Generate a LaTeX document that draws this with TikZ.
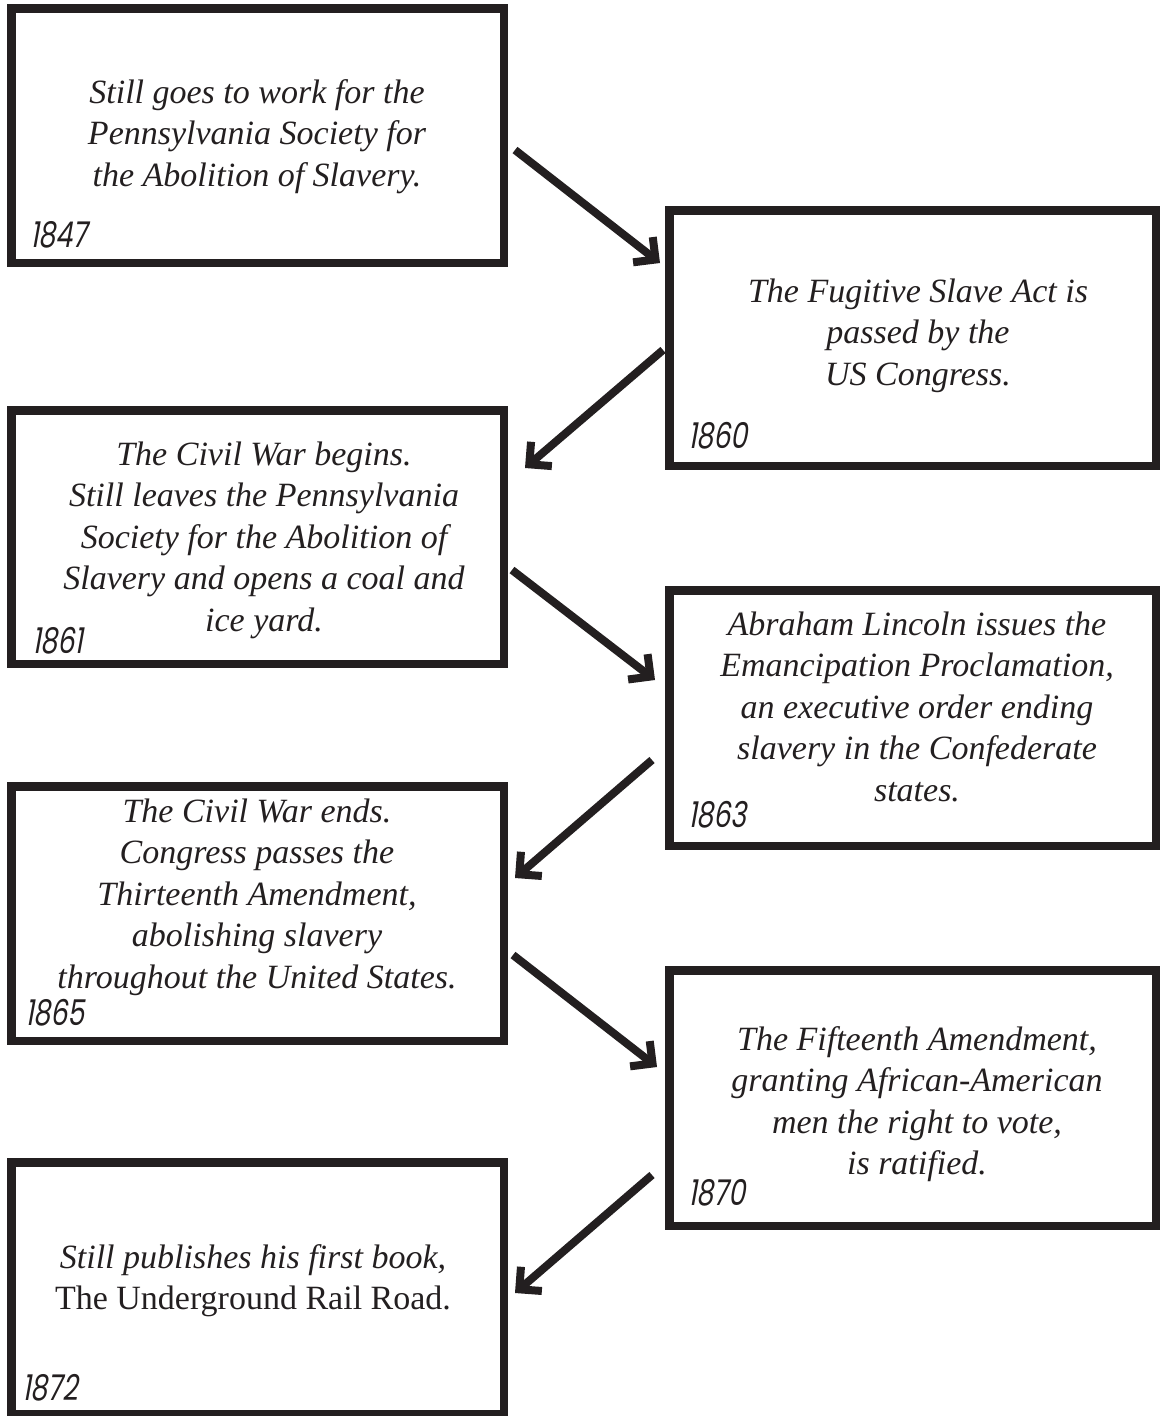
\documentclass[tikz,border=0pt]{standalone}
\usepackage{fontspec}
\setmainfont{Liberation Serif}
\newfontfamily\yearfont[FakeSlant=0.18,FakeStretch=0.76]{Poppins}
\usetikzlibrary{arrows.meta}
\definecolor{ink}{HTML}{231F20}
\begin{document}
\begin{tikzpicture}[x=1pt,y=-1pt,
  tbox/.style={draw=ink, line width=8.5pt, rectangle, inner sep=0pt, outer sep=0pt},
  desc/.style={anchor=base, inner sep=0pt, text=ink, font=\fontsize{34}{41.5}\selectfont\itshape},
  yr/.style={anchor=base west, inner sep=0pt, text=ink, font=\fontsize{35.5}{40}\selectfont\yearfont},
  conn/.style={draw=ink, line width=8pt, line cap=butt, -{Straight Barb[length=16pt,width=32pt,line join=miter]}}]
\useasboundingbox (0,0) rectangle (1161,1416);
% boxes
\node[tbox, minimum width=492.5pt, minimum height=254.5pt] (b1) at (257.5,135.5) {};
\node[tbox, minimum width=486.5pt, minimum height=255.5pt] (b2) at (912.5,338) {};
\node[tbox, minimum width=492.5pt, minimum height=253.5pt] (b3) at (257.5,537) {};
\node[tbox, minimum width=486.5pt, minimum height=255.5pt] (b4) at (912.5,718) {};
\node[tbox, minimum width=492.5pt, minimum height=254.5pt] (b5) at (257.5,913.5) {};
\node[tbox, minimum width=486.5pt, minimum height=255.5pt] (b6) at (912.5,1098) {};
\node[tbox, minimum width=492.5pt, minimum height=251.5pt] (b7) at (257.5,1288) {};
% texts
\node[desc] (t1) at (257,103) {\begin{tabular}[t]{@{}c@{}}Still goes to work for the\\ Pennsylvania Society for\\ the Abolition of Slavery.\end{tabular}};
\node[desc] (t2) at (918,302) {\begin{tabular}[t]{@{}c@{}}The Fugitive Slave Act is\\ passed by the\\ US Congress.\end{tabular}};
\node[desc] (t3) at (264,465) {\begin{tabular}[t]{@{}c@{}}The Civil War begins.\\ Still leaves the Pennsylvania\\ Society for the Abolition of\\ Slavery and opens a coal and\\ ice yard.\end{tabular}};
\node[desc] (t4) at (917,635) {\begin{tabular}[t]{@{}c@{}}Abraham Lincoln issues the\\ Emancipation Proclamation,\\ an executive order ending\\ slavery in the Confederate\\ states.\end{tabular}};
\node[desc] (t5) at (257,822) {\begin{tabular}[t]{@{}c@{}}The Civil War ends.\\ Congress passes the\\ Thirteenth Amendment,\\ abolishing slavery\\ throughout the United States.\end{tabular}};
\node[desc] (t6) at (917,1050) {\begin{tabular}[t]{@{}c@{}}The Fifteenth Amendment,\\ granting African-American\\ men the right to vote,\\ is ratified.\end{tabular}};
\node[desc] (t7) at (253,1268) {\begin{tabular}[t]{@{}c@{}}Still publishes his first book,\\ \upshape The Underground Rail Road.\end{tabular}};
% years
\node[yr] (y1) at (30,247) {1847};
\node[yr] (y2) at (688,448) {1860};
\node[yr] (y3) at (32,653) {1861};
\node[yr] (y4) at (688,827) {1863};
\node[yr] (y5) at (25,1025) {1865};
\node[yr] (y6) at (688,1205) {1870};
\node[yr] (y7) at (22,1400) {1872};
% connectors
\coordinate (a1s) at (515,150); \coordinate (a1e) at (660,263);
\coordinate (a2s) at (663,350); \coordinate (a2e) at (525,468);
\coordinate (a3s) at (512,570); \coordinate (a3e) at (655,680);
\coordinate (a4s) at (652,760); \coordinate (a4e) at (515,878);
\coordinate (a5s) at (513,955); \coordinate (a5e) at (657,1067);
\coordinate (a6s) at (652,1175); \coordinate (a6e) at (515,1293);
\draw[conn] (a1s) -- (a1e);
\draw[conn] (a2s) -- (a2e);
\draw[conn] (a3s) -- (a3e);
\draw[conn] (a4s) -- (a4e);
\draw[conn] (a5s) -- (a5e);
\draw[conn] (a6s) -- (a6e);
\end{tikzpicture}
\end{document}
